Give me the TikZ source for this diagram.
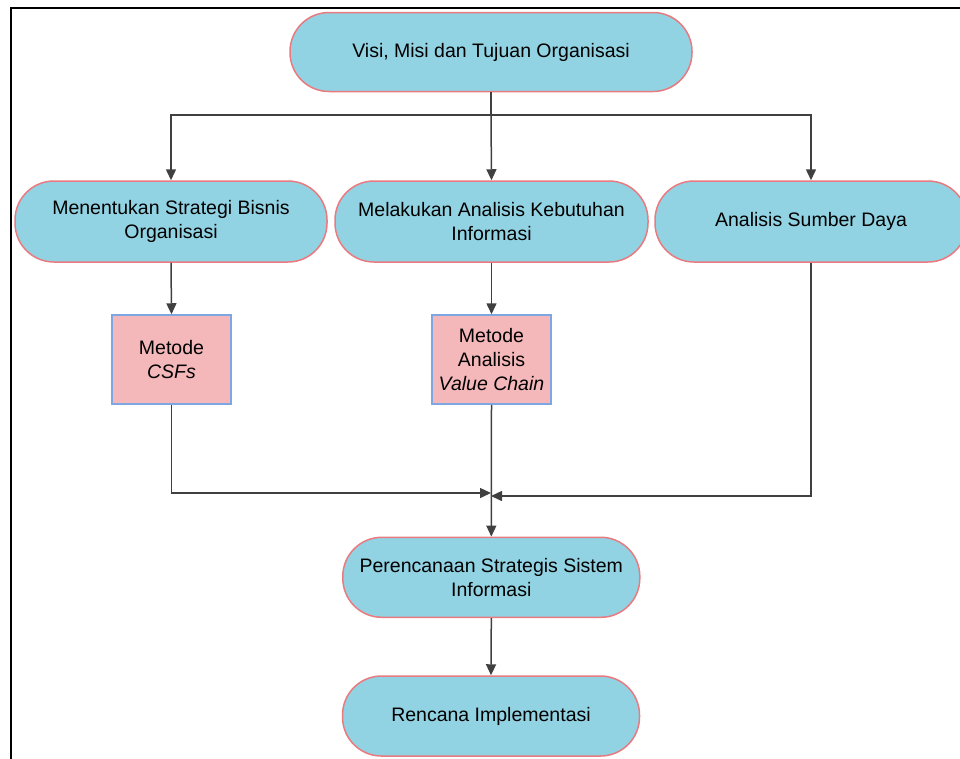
\documentclass[tikz,border=0pt]{standalone}
\usepackage{fontspec}
\setmainfont{Liberation Sans}
\usetikzlibrary{arrows.meta}
\definecolor{boxblue}{HTML}{92D3E3}
\definecolor{boxedge}{HTML}{E97A80}
\definecolor{pinkfill}{HTML}{F4B7BA}
\definecolor{pinkedge}{HTML}{7EA6E0}
\definecolor{arrowgray}{HTML}{404040}
\tikzset{
  pill/.style={draw=boxedge, fill=boxblue, line width=1.5pt, rectangle, rounded corners=39pt,
    inner sep=0pt, align=center, font=\fontsize{19.5}{23.5}\selectfont},
  method/.style={draw=pinkedge, fill=pinkfill, line width=1.5pt, rectangle,
    minimum width=119pt, minimum height=89pt, inner sep=0pt, align=center,
    font=\fontsize{19.5}{24}\selectfont},
  arr/.style={draw=arrowgray, line width=1.5pt, -{Triangle[length=11pt,width=10pt]}},
  ln/.style={draw=arrowgray, line width=1.5pt},
}
\begin{document}
\begin{tikzpicture}[x=1pt,y=-1pt]
\useasboundingbox (0,0) rectangle (960,758);
\clip (0,0) rectangle (960,758);
\draw[line width=2pt] (11.3,7.5) rectangle (1000,800);

\node[pill, minimum width=402pt, minimum height=79pt] (top) at (491,52) {Visi, Misi dan Tujuan Organisasi};
\node[pill, minimum width=312pt, minimum height=81pt] (left) at (171,221.5) {Menentukan Strategi Bisnis\\Organisasi};
\node[pill, minimum width=313pt, minimum height=81pt] (mid) at (491.5,221.5) {Melakukan Analisis Kebutuhan\\Informasi};
\node[pill, minimum width=312pt, minimum height=81pt] (right) at (811,221.5) {Analisis Sumber Daya};
\node[method] (csf) at (171.5,359.5) {Metode\\\itshape CSFs};
\node[method] (vc) at (491.5,359.5) {Metode\\Analisis\\\itshape Value Chain};
\node[pill, minimum width=297pt, minimum height=80pt] (pss) at (491.3,577.3) {Perencanaan Strategis Sistem\\Informasi};
\node[pill, minimum width=297pt, minimum height=80pt] (ri) at (491,716) {Rencana Implementasi};

\coordinate (j) at (491,115);
\coordinate (m1) at (491,493);
\coordinate (m2) at (491,496);

\draw[ln] (top.south) -- (j);
\draw[arr] (j) -| (left.north);
\draw[arr] (j) -- (mid.north);
\draw[arr] (j) -| (right.north);
\draw[arr] (left.south) -- (csf.north);
\draw[arr] (mid.south) -- (vc.north);
\draw[arr] (csf.south) |- (m1);
\draw[arr] (right.south) |- (m2);
\draw[arr] (vc.south) -- (pss.north);
\draw[arr] (pss.south) -- (ri.north);
\end{tikzpicture}
\end{document}
